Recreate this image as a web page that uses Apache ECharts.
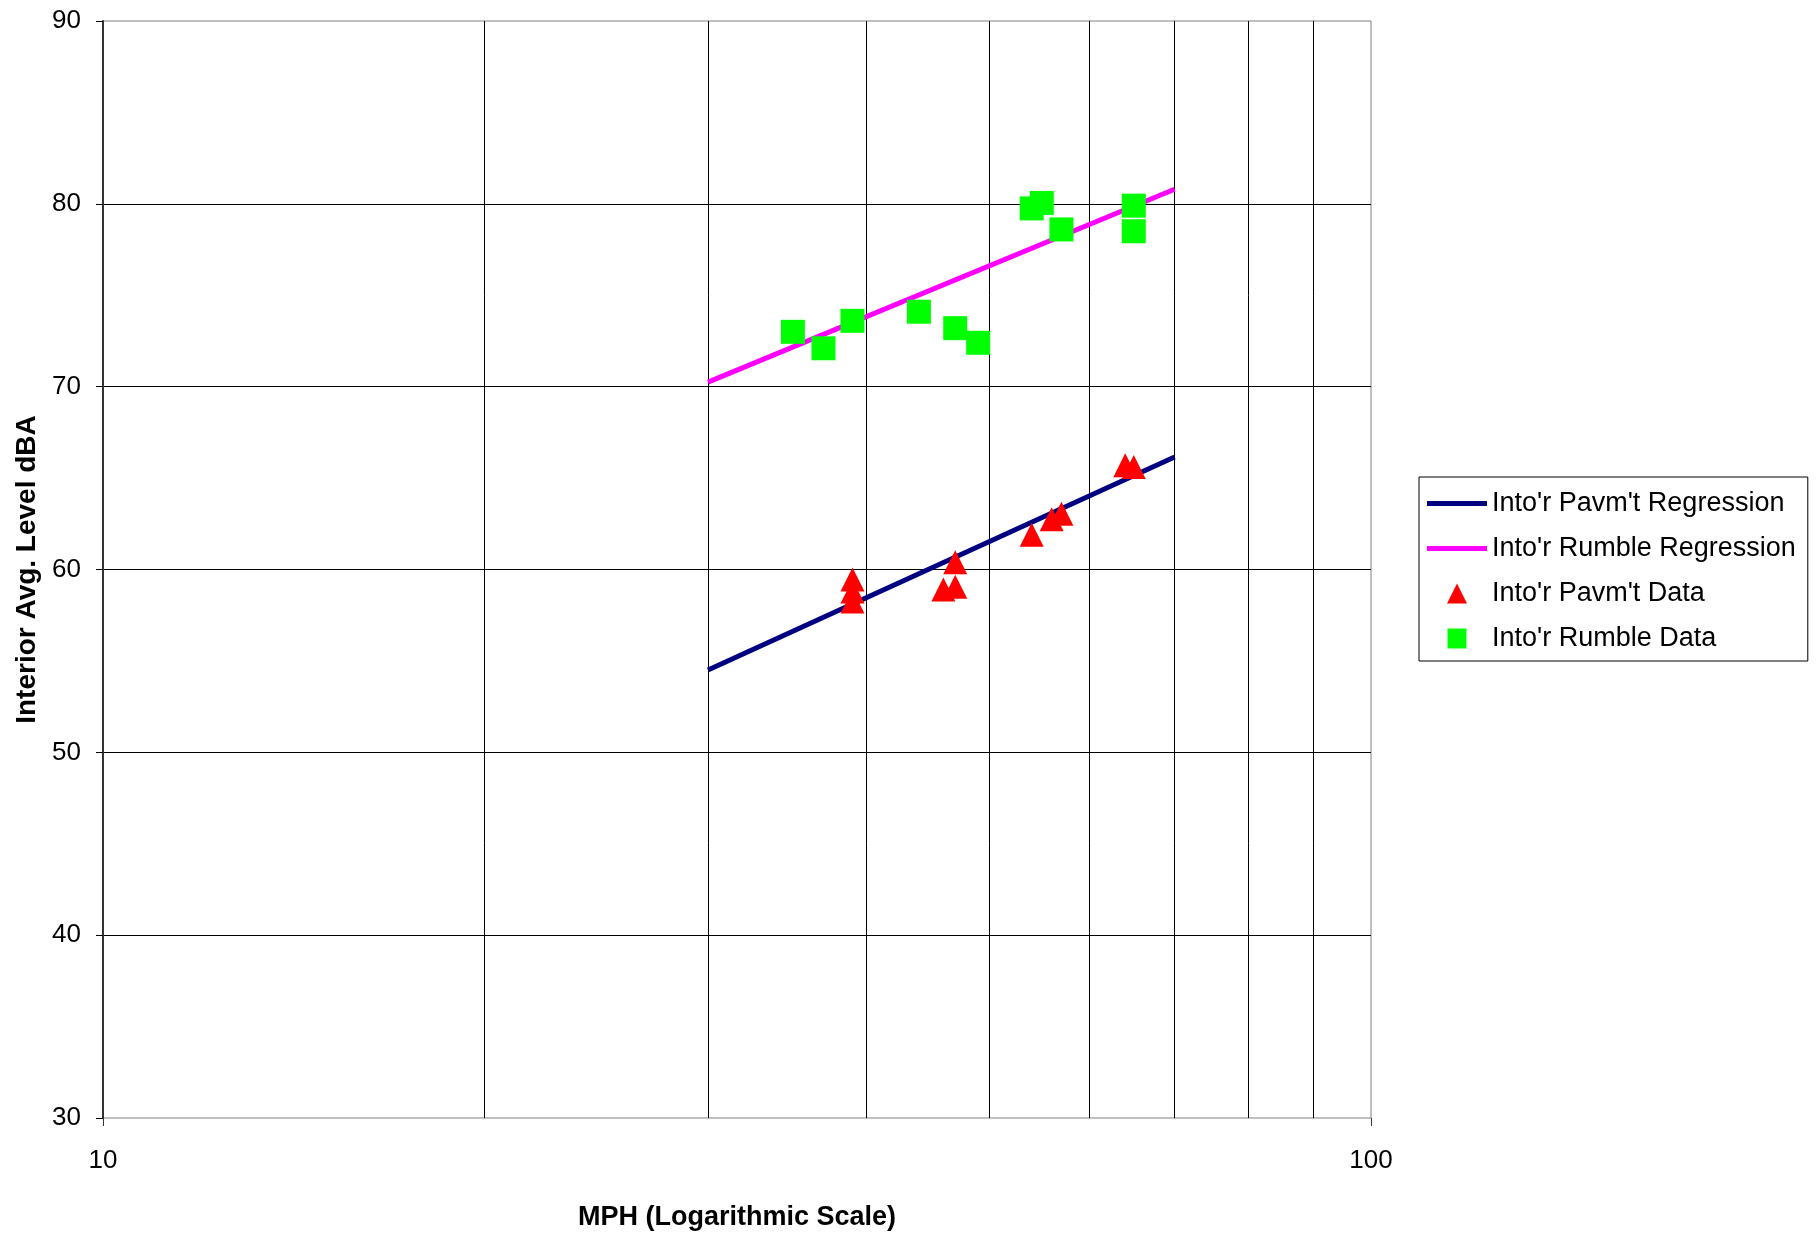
<!DOCTYPE html>
<html>
<head>
<meta charset="utf-8">
<script src="https://cdn.jsdelivr.net/npm/echarts@6/dist/echarts.min.js"></script>
<style>
html,body{margin:0;padding:0;background:#fff;}
#chart{width:1820px;height:1233px;}
</style>
</head>
<body>
<div id="chart"></div>
<script>
// ---- data ----
const pavDataX = [39, 39, 39, 46, 47, 47, 54, 56, 57, 64, 65];
const pavDataY = [59.45, 58.8, 58.25, 58.9, 59.05, 60.4, 61.9, 62.75, 63.05, 65.7, 65.6];
const rumDataX = [35, 37, 39, 44, 47, 49, 54, 55, 57, 65, 65];
const rumDataY = [73.0, 72.1, 73.6, 74.1, 73.2, 72.4, 79.75, 80.05, 78.6, 79.9, 78.5];
const pavRegX = [30, 70];
const pavRegY = [54.5, 66.15];
const rumRegX = [30, 70];
const rumRegY = [70.25, 80.8];
const minorGridX = [20, 30, 40, 50, 60, 70, 80, 90];
const seriesNames = ["Into'r Pavm't Regression", "Into'r Rumble Regression", "Into'r Pavm't Data", "Into'r Rumble Data"];
const xTitle = 'MPH (Logarithmic Scale)';
const yTitle = 'Interior Avg. Level dBA';

const zip = (xs, ys) => xs.map((x, i) => [x, ys[i]]);
const FONT = '"Liberation Sans", Arial, sans-serif';
const LINE_ICON = 'path://M0,0 H60 V5 H0 Z';
const TRI_ICON = 'path://M10,0 L20,20 L0,20 Z';
const SQ_ICON = 'path://M0,0 H19 V20 H0 Z';

const chart = echarts.init(document.getElementById('chart'), null, {renderer: 'canvas'});
chart.setOption({
  backgroundColor: '#fff',
  animation: false,
  grid: {left: 103, right: 449, top: 21, bottom: 115, show: true, borderColor: '#808080', borderWidth: 1,
         backgroundColor: 'transparent', containLabel: false, outerBoundsMode: 'none'},
  xAxis: {
    type: 'log', logBase: 10, min: 10, max: 100,
    name: xTitle, nameLocation: 'middle', nameGap: 86,
    nameTextStyle: {fontFamily: FONT, fontWeight: 'bold', fontSize: 27, color: '#000'},
    axisLine: {show: true, lineStyle: {color: '#c0c0c0', width: 1}},
    axisTick: {show: true, length: 8, lineStyle: {color: '#333'}},
    axisLabel: {fontFamily: FONT, fontSize: 26, color: '#000', margin: 30},
    splitLine: {show: false},
    minorTick: {show: false}
  },
  yAxis: {
    type: 'value', min: 30, max: 90, interval: 10,
    name: yTitle, nameLocation: 'middle', nameGap: 62, nameRotate: 90,
    nameTextStyle: {fontFamily: FONT, fontWeight: 'bold', fontSize: 28, color: '#000'},
    axisLine: {show: true, lineStyle: {color: '#333', width: 2}},
    axisTick: {show: true, length: 7, lineStyle: {color: '#000'}},
    axisLabel: {fontFamily: FONT, fontSize: 26, color: '#000', margin: 22},
    splitLine: {show: true, showMinLine: false, showMaxLine: false, lineStyle: {color: '#000', width: 1}}
  },
  legend: {
    orient: 'vertical', left: 1419, top: 477,
    padding: [13, 12, 9, 8],
    itemWidth: 60, itemHeight: 20, itemGap: 18,
    borderColor: '#000', borderWidth: 1, borderRadius: 0, backgroundColor: '#fff',
    textStyle: {fontFamily: FONT, fontSize: 27, color: '#000'},
    data: [
      {name: seriesNames[0], icon: LINE_ICON},
      {name: seriesNames[1], icon: LINE_ICON},
      {name: seriesNames[2], icon: TRI_ICON},
      {name: seriesNames[3], icon: SQ_ICON}
    ]
  },
  series: [
    {
      name: 'grid', type: 'line', data: [], silent: true,
      markLine: {
        silent: true, symbol: ['none', 'none'], z: 1, animation: false,
        label: {show: false},
        lineStyle: {color: '#000', width: 1, type: 'solid'},
        data: minorGridX.map(v => ({xAxis: v}))
      }
    },
    {
      name: seriesNames[0], type: 'line', data: zip(pavRegX, pavRegY),
      symbol: 'none', showSymbol: false, z: 3,
      lineStyle: {color: '#000080', width: 5}, itemStyle: {color: '#000080'}
    },
    {
      name: seriesNames[1], type: 'line', data: zip(rumRegX, rumRegY),
      symbol: 'none', showSymbol: false, z: 3,
      lineStyle: {color: '#ff00ff', width: 5}, itemStyle: {color: '#ff00ff'}
    },
    {
      name: seriesNames[2], type: 'scatter', data: zip(pavDataX, pavDataY),
      symbol: 'triangle', symbolSize: [24, 24], z: 4,
      itemStyle: {color: '#ff0000', opacity: 1}
    },
    {
      name: seriesNames[3], type: 'scatter', data: zip(rumDataX, rumDataY),
      symbol: 'rect', symbolSize: 24, z: 4,
      itemStyle: {color: '#00ff00', opacity: 1}
    }
  ]
});
</script>
</body>
</html>
